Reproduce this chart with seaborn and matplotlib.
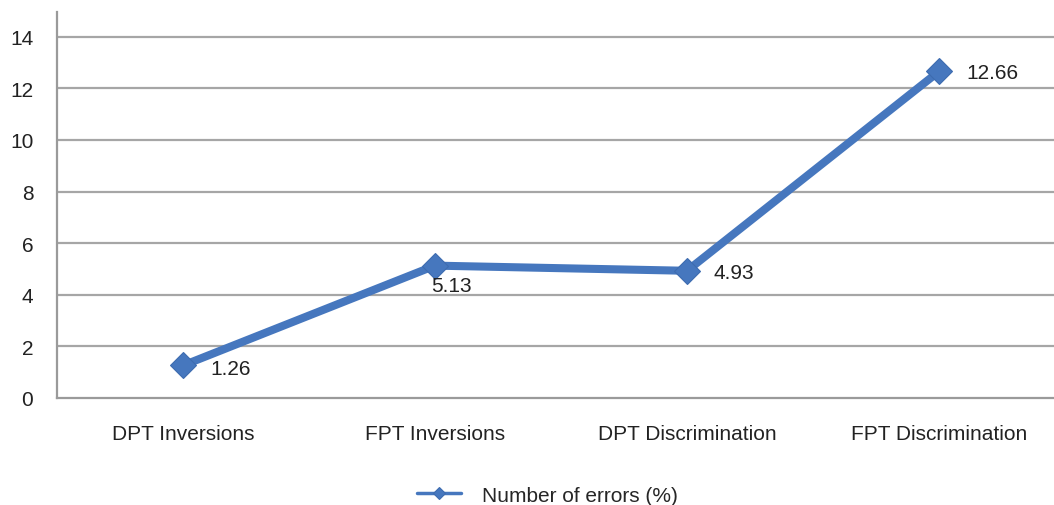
import matplotlib
matplotlib.use("Agg")
import matplotlib.pyplot as plt
import seaborn as sns
import pandas as pd

categories = ["DPT Inversions", "FPT Inversions", "DPT Discrimination", "FPT Discrimination"]
errors_pct = [1.26, 5.13, 4.93, 12.66]
y_ticks = [0, 2, 4, 6, 8, 10, 12, 14]
series_name = "Number of errors (%)"

sns.set_theme(style="white")
plt.rcParams["font.family"] = ["Liberation Sans", "DejaVu Sans"]

df = pd.DataFrame({"pos": range(len(categories)), "value": errors_pct})

fig = plt.figure(figsize=(10.54, 5.06), dpi=100)
ax = fig.add_axes([0.054, 0.2115, 0.946, 0.7628])

line_color = "#4677be"
sns.lineplot(data=df, x="pos", y="value", ax=ax, color=line_color, linewidth=5.8,
             marker="D", markersize=13.5, markeredgecolor="#3d6cb0", markeredgewidth=0.8,
             label=series_name, zorder=3)

fs = 15
ax.set_xlim(-0.5, 3.456)
ax.set_ylim(0, 14.96)
ax.set_yticks(y_ticks)
ax.set_yticklabels([str(t) for t in y_ticks], fontsize=fs, color="#222222")
ax.set_xticks(range(len(categories)))
ax.set_xticklabels(categories, fontsize=fs, color="#222222")
ax.tick_params(axis="both", length=0)
ax.tick_params(axis="x", pad=18.5)
ax.tick_params(axis="y", pad=17)
ax.set_xlabel("")
ax.set_ylabel("")

for t in y_ticks[1:]:
    ax.axhline(t, color="#a6a6a6", linewidth=1.6, zorder=1)

for side in ["top", "right"]:
    ax.spines[side].set_visible(False)
for side in ["left", "bottom"]:
    ax.spines[side].set_color("#9a9a9a")
    ax.spines[side].set_linewidth(1.6)

# value labels next to each point
offsets = [(20, -2), (-3, -14), (19, -1), (20, -1)]
for i, (v, off) in enumerate(zip(errors_pct, offsets)):
    ax.annotate(f"{v:.2f}", (i, v), xytext=off, textcoords="offset points",
                fontsize=fs, color="#222222", va="center", ha="left")

handles, labels = ax.get_legend_handles_labels()
ax.legend(handles, labels, loc="center", bbox_to_anchor=(0.492, -0.252),
          frameon=False, fontsize=fs, handlelength=2.1, handletextpad=1.0,
          markerscale=0.45)
for h in ax.get_legend().get_lines():
    h.set_linewidth(2.5)

fig.savefig("out.png", dpi=100)
